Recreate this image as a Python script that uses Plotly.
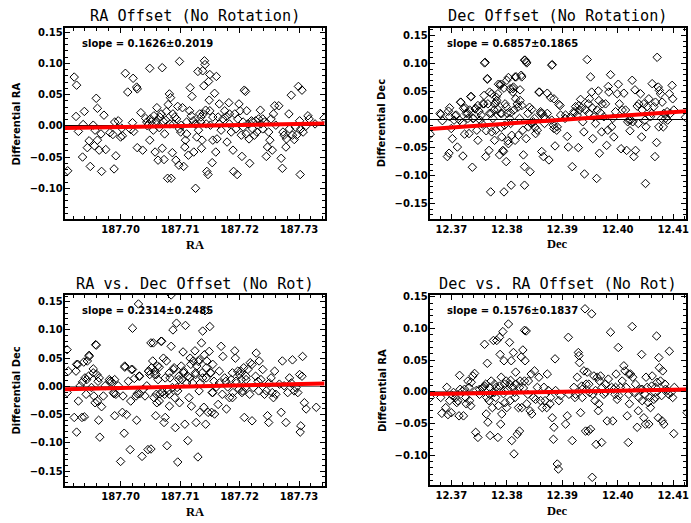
import plotly.graph_objects as go

# ---------------- data ----------------
ra1 = [187.6911,187.6922,187.6926,187.6925,187.6929,187.6937,187.6939,187.6936,187.6944,187.6947,187.6949,187.6954,187.6957,187.6959,187.6961,187.6956,187.6961,187.6964,187.6968,187.6972,187.6975,187.6967,187.6982,187.6987,187.6989,187.6992,187.6990,187.6996,187.7002,187.7000,187.7003,187.7008,187.7012,187.7021,187.7027,187.7028,187.7017,187.7020,187.7022,187.7028,187.7034,187.7037,187.7042,187.7045,187.7049,187.7049,187.7052,187.7055,187.7056,187.7058,187.7059,187.7061,187.7063,187.7065,187.7068,187.7070,187.7070,187.7072,187.7073,187.7074,187.7077,187.7080,187.7079,187.7082,187.7084,187.7085,187.7087,187.7088,187.7089,187.7093,187.7094,187.7096,187.7098,187.7099,187.7099,187.7101,187.7104,187.7106,187.7108,187.7109,187.7111,187.7114,187.7116,187.7117,187.7120,187.7122,187.7123,187.7126,187.7127,187.7128,187.7130,187.7131,187.7133,187.7135,187.7136,187.7137,187.7138,187.7140,187.7141,187.7142,187.7144,187.7145,187.7147,187.7148,187.7150,187.7149,187.7150,187.7151,187.7154,187.7155,187.7158,187.7160,187.7161,187.7162,187.7164,187.7166,187.7169,187.7172,187.7175,187.7178,187.7179,187.7182,187.7183,187.7186,187.7189,187.7190,187.7192,187.7194,187.7196,187.7197,187.7199,187.7201,187.7203,187.7204,187.7206,187.7208,187.7210,187.7211,187.7212,187.7214,187.7216,187.7217,187.7220,187.7222,187.7225,187.7227,187.7229,187.7232,187.7235,187.7236,187.7239,187.7242,187.7245,187.7247,187.7249,187.7251,187.7253,187.7255,187.7257,187.7259,187.7261,187.7266,187.7270,187.7272,187.7273,187.7275,187.7278,187.7279,187.7283,187.7284,187.7287,187.7289,187.7292,187.7294,187.7296,187.7299,187.7301,187.7302,187.7303,187.7305,187.7307,187.7311,187.7315,187.7317,187.7327,187.7342,
       187.7044,187.7050,187.7060,187.7066,187.7076,187.7083,187.7091,187.7102,187.7111,187.7119,187.7125,187.7135,187.7139,187.7143,187.7155,187.7166,187.7183,187.7206,187.7222,187.7239]
dra1 = [-0.072,0.078,0.065,0.015,-0.009,0.002,0.023,-0.050,-0.035,-0.024,-0.065,0.001,-0.007,0.044,0.028,-0.032,-0.023,-0.039,-0.073,0.017,-0.038,-0.013,-0.011,-0.014,-0.069,-0.048,0.006,0.008,-0.004,-0.018,-0.016,0.084,0.054,0.076,0.062,0.059,-0.006,0.005,-0.009,-0.035,0.021,-0.039,0.012,0.000,0.092,-0.023,0.007,-0.007,0.016,-0.042,0.004,0.029,-0.055,-0.003,0.019,0.093,-0.036,0.007,-0.054,-0.013,0.023,0.034,-0.084,0.051,0.045,-0.084,-0.043,0.019,0.003,-0.055,0.011,0.031,-0.063,0.103,-0.005,-0.010,0.029,-0.065,-0.034,-0.023,-0.013,-0.047,0.024,0.061,0.047,0.008,-0.042,-0.100,0.003,-0.018,0.087,-0.007,0.019,0.014,-0.036,-0.023,0.088,0.064,0.104,0.098,0.003,-0.073,-0.078,0.071,0.082,0.041,0.024,0.001,-0.059,-0.023,0.052,-0.042,0.079,-0.021,0.014,0.035,-0.007,0.011,0.024,0.015,-0.026,0.037,0.003,-0.010,-0.039,-0.073,0.019,-0.005,-0.078,0.011,0.035,0.024,-0.015,-0.049,0.006,0.057,0.055,-0.013,0.024,0.003,-0.021,-0.060,0.008,-0.005,-0.015,0.008,-0.010,0.011,0.025,0.003,-0.005,0.006,-0.049,-0.034,-0.010,-0.023,0.011,-0.039,0.019,0.032,0.001,0.032,-0.052,-0.068,-0.010,-0.015,-0.034,-0.021,0.019,-0.005,0.049,-0.015,-0.022,-0.002,-0.015,0.063,0.008,-0.078,-0.005,0.057,-0.010,-0.001,0.016,0.011,0.003,0.012,
        0.006,0.011,0.008,0.014,0.009,0.003,0.014,0.001,0.006,0.016,0.003,0.006,0.019,0.025,0.014,0.003,0.019,-0.002,0.006,0.011]

dec2 = [12.3662,12.3680,12.3684,12.3693,12.3696,12.3697,12.3700,12.3702,12.3705,12.3709,12.3711,12.3715,12.3717,12.3720,12.3721,12.3722,12.3724,12.3727,12.3730,12.3732,12.3733,12.3736,12.3738,12.3740,12.3744,12.3746,12.3748,12.3750,12.3752,12.3756,12.3757,12.3759,12.3760,12.3762,12.3763,12.3765,12.3766,12.3768,12.3769,12.3771,12.3772,12.3773,12.3775,12.3777,12.3778,12.3780,12.3781,12.3782,12.3784,12.3785,12.3787,12.3788,12.3789,12.3790,12.3791,12.3793,12.3794,12.3795,12.3796,12.3797,12.3799,12.3800,12.3801,12.3802,12.3803,12.3805,12.3806,12.3807,12.3808,12.3809,12.3811,12.3812,12.3813,12.3815,12.3816,12.3817,12.3819,12.3821,12.3823,12.3824,12.3826,12.3827,12.3829,12.3830,12.3832,12.3832,12.3833,12.3835,12.3836,12.3838,12.3839,12.3842,12.3844,12.3845,12.3848,12.3851,12.3852,12.3855,12.3858,12.3861,12.3863,12.3864,12.3866,12.3867,12.3870,12.3873,12.3876,12.3879,12.3881,12.3882,12.3884,12.3885,12.3887,12.3890,12.3891,12.3894,12.3897,12.3905,12.3909,12.3911,12.3915,12.3918,12.3921,12.3924,12.3927,12.3929,12.3930,12.3931,12.3933,12.3935,12.3937,12.3939,12.3940,12.3942,12.3945,12.3947,12.3948,12.3949,12.3951,12.3953,12.3954,12.3955,12.3957,12.3960,12.3962,12.3963,12.3965,12.3966,12.3967,12.3969,12.3971,12.3972,12.3975,12.3978,12.3980,12.3982,12.3983,12.3984,12.3987,12.3989,12.3991,12.3993,12.3996,12.3999,12.4001,12.4003,12.4006,12.4008,12.4011,12.4014,12.4016,12.4018,12.4020,12.4022,12.4023,12.4026,12.4027,12.4029,12.4031,12.4032,12.4035,12.4037,12.4038,12.4041,12.4043,12.4044,12.4047,12.4049,12.4050,12.4051,12.4053,12.4056,12.4059,12.4061,12.4062,12.4065,12.4067,12.4068,12.4070,12.4071,12.4073,12.4074,12.4075,12.4077,12.4079,12.4080,12.4082,12.4083,12.4086,12.4089,12.4090,12.4093,12.4095,12.4098,12.4099,12.4101,12.4122,
        12.3681,12.3695,12.3697,12.3707,12.3717,12.3725,12.3730,12.3735,12.3739,12.3743,12.3748,12.3754,12.3759,12.3761,12.3765,12.3769,12.3773,12.3778,12.3781,12.3784,12.3789,12.3791,12.3795,12.3799,12.3803,12.3807,12.3811,12.3815,12.3820,12.3824,12.3827,12.3832,12.3835,12.3841,12.3845,12.3850,12.3859,12.3861,12.3868,12.3873,12.3881,12.3885,12.3896,12.3906,12.3921]
ddec2 = [-0.026,0.011,-0.002,-0.066,-0.060,0.021,-0.016,-0.034,-0.001,0.008,-0.049,-0.001,0.031,-0.006,-0.065,0.020,-0.026,0.011,0.002,-0.025,0.017,0.041,-0.085,0.002,0.020,-0.019,-0.037,0.015,-0.001,-0.008,0.028,0.043,0.101,-0.066,-0.020,0.073,0.028,-0.055,0.049,-0.129,0.011,-0.022,0.002,0.017,-0.037,-0.019,0.030,0.034,0.046,0.063,-0.063,0.061,0.011,-0.014,-0.031,-0.055,-0.057,-0.129,-0.010,0.028,-0.075,0.070,0.011,-0.038,-0.043,0.002,0.055,-0.007,-0.117,-0.028,0.049,0.058,0.017,-0.037,0.037,0.076,0.028,-0.028,0.002,0.053,0.079,0.025,-0.019,-0.063,-0.117,-0.084,0.106,-0.034,0.101,0.011,-0.013,-0.093,-0.007,0.018,-0.004,-0.014,-0.025,-0.019,0.049,0.014,-0.057,0.011,-0.066,0.005,0.002,0.047,-0.072,0.039,-0.001,0.098,-0.010,-0.016,-0.047,-0.019,-0.013,0.027,0.008,0.002,-0.030,-0.049,0.005,-0.084,0.014,0.023,0.008,-0.050,0.025,0.017,0.036,0.021,-0.004,-0.022,-0.097,0.017,0.107,0.028,0.011,0.037,0.076,0.049,0.021,-0.034,0.005,-0.007,-0.105,0.017,0.051,0.034,-0.060,0.012,-0.022,0.028,0.005,0.028,-0.046,-0.019,0.059,0.049,0.080,-0.013,0.002,-0.031,0.014,0.046,0.063,0.028,-0.052,0.017,0.047,0.017,-0.055,-0.004,-0.001,-0.020,-0.001,0.070,-0.004,-0.066,0.053,-0.055,0.024,-0.007,0.028,0.046,-0.031,0.017,0.028,-0.001,-0.114,-0.013,0.023,0.037,0.005,0.011,0.064,0.023,-0.066,0.031,-0.041,0.111,0.058,-0.013,0.052,0.046,0.002,0.031,-0.013,0.011,0.002,0.014,-0.001,0.046,0.011,0.061,0.037,0.017,0.004,
         0.009,0.015,0.005,0.007,0.031,0.021,0.011,0.041,0.002,0.019,0.025,0.008,0.028,0.102,0.072,0.011,0.046,0.028,0.040,0.018,0.063,0.011,0.056,0.023,0.075,0.012,0.055,0.076,0.022,0.034,0.076,0.106,0.103,0.022,-0.007,0.002,0.049,0.011,-0.007,0.011,0.097,0.037,0.025,0.008,0.011]

ra3 = [187.6910,187.6910,187.6922,187.6925,187.6926,187.6928,187.6929,187.6932,187.6935,187.6936,187.6939,187.6940,187.6942,187.6944,187.6946,187.6947,187.6951,187.6954,187.6955,187.6957,187.6959,187.6960,187.6961,187.6963,187.6964,187.6965,187.6968,187.6971,187.6974,187.6981,187.6985,187.6988,187.6989,187.6990,187.6992,187.6996,187.7000,187.7003,187.7004,187.7006,187.7007,187.7010,187.7013,187.7016,187.7017,187.7018,187.7020,187.7023,187.7026,187.7027,187.7028,187.7031,187.7032,187.7030,187.7036,187.7038,187.7041,187.7044,187.7046,187.7047,187.7049,187.7051,187.7052,187.7054,187.7055,187.7056,187.7058,187.7059,187.7060,187.7061,187.7063,187.7065,187.7066,187.7069,187.7070,187.7072,187.7073,187.7074,187.7075,187.7077,187.7078,187.7080,187.7082,187.7083,187.7085,187.7087,187.7088,187.7089,187.7091,187.7092,187.7094,187.7095,187.7096,187.7098,187.7099,187.7102,187.7103,187.7105,187.7106,187.7108,187.7109,187.7111,187.7113,187.7115,187.7116,187.7117,187.7119,187.7121,187.7122,187.7125,187.7126,187.7127,187.7128,187.7130,187.7132,187.7133,187.7134,187.7136,187.7137,187.7138,187.7140,187.7141,187.7142,187.7143,187.7144,187.7145,187.7147,187.7149,187.7150,187.7151,187.7153,187.7154,187.7155,187.7158,187.7161,187.7164,187.7166,187.7169,187.7171,187.7172,187.7175,187.7178,187.7180,187.7183,187.7186,187.7189,187.7192,187.7193,187.7194,187.7197,187.7199,187.7200,187.7203,187.7204,187.7207,187.7208,187.7210,187.7211,187.7214,187.7217,187.7218,187.7221,187.7223,187.7227,187.7228,187.7231,187.7232,187.7233,187.7236,187.7239,187.7242,187.7245,187.7247,187.7249,187.7250,187.7253,187.7255,187.7257,187.7259,187.7261,187.7267,187.7270,187.7272,187.7275,187.7278,187.7281,187.7284,187.7287,187.7289,187.7292,187.7295,187.7298,187.7301,187.7302,187.7303,187.7305,187.7306,187.7309,187.7312,187.7329,187.7085,
       187.6912,187.6926,187.6938,187.6947,187.6943,187.6954,187.6958,187.6962,187.6982,187.6990,187.7007,187.7020,187.7032,187.7047,187.7051,187.7057,187.7062,187.7068,187.7075,187.7082,187.7090,187.7098,187.7106,187.7113,187.7118,187.7126,187.7131,187.7138,187.7144,187.7152,187.7157,187.7166,187.7177,187.7188,187.7202,187.7211,187.7221,
       187.7060,187.7082,187.7065,187.7096,187.7132,187.7155,187.7188,187.7205]
ddec3 = [0.065,-0.011,-0.055,0.027,-0.081,0.039,-0.026,0.001,-0.055,0.008,-0.054,0.015,-0.014,0.045,0.018,0.053,-0.002,0.031,-0.017,-0.029,0.073,0.021,-0.026,-0.060,0.015,-0.090,-0.036,-0.017,0.001,0.012,0.008,-0.011,-0.013,-0.052,-0.014,0.001,-0.133,-0.046,-0.017,-0.083,0.034,-0.050,0.009,-0.112,-0.026,0.030,0.103,0.014,-0.017,-0.060,-0.013,0.018,-0.013,0.146,-0.124,-0.005,-0.017,0.001,-0.112,0.027,0.021,-0.111,0.033,0.045,0.077,-0.020,0.027,-0.052,0.021,-0.029,0.012,0.034,-0.013,0.080,-0.011,0.050,-0.064,-0.014,-0.055,0.045,-0.105,-0.008,-0.035,0.015,0.071,-0.002,0.100,0.030,-0.020,-0.073,0.112,-0.002,-0.134,0.018,-0.029,0.036,0.012,0.061,0.024,-0.067,0.108,0.006,-0.096,-0.020,0.015,0.050,-0.035,0.006,0.045,0.063,0.021,-0.064,0.036,-0.125,0.047,-0.046,0.006,0.077,0.024,0.098,-0.037,0.056,0.134,-0.067,0.015,0.045,-0.046,0.062,0.106,0.024,-0.046,-0.011,0.039,-0.049,-0.001,-0.032,0.006,0.071,-0.014,0.053,0.015,-0.040,-0.001,-0.020,0.012,-0.011,0.063,0.050,0.009,0.027,-0.005,0.021,0.012,-0.011,0.033,-0.055,-0.002,0.018,0.030,-0.014,0.042,-0.061,-0.002,0.018,0.059,0.009,-0.008,0.045,0.012,0.030,-0.014,-0.008,-0.052,-0.064,0.006,0.015,-0.011,-0.020,0.027,-0.014,0.004,-0.046,0.045,0.001,-0.064,-0.011,0.015,0.006,0.047,-0.008,-0.002,-0.011,0.021,-0.081,-0.070,0.018,0.053,-0.029,-0.040,-0.037,0.162,
         0.027,0.039,0.043,0.055,0.012,0.024,0.074,0.009,0.009,0.012,0.036,0.030,0.018,0.027,0.077,0.021,0.036,0.080,0.015,0.024,0.033,0.012,0.027,0.018,0.039,0.024,0.044,0.015,0.033,0.024,0.009,0.027,0.009,0.024,0.027,0.012,0.039,
         -0.014,-0.014,-0.026,-0.008,-0.008,-0.011,-0.020,-0.008]

dec4 = [12.3662,12.3681,12.3683,12.3690,12.3692,12.3694,12.3697,12.3700,12.3702,12.3704,12.3708,12.3710,12.3712,12.3714,12.3715,12.3716,12.3720,12.3722,12.3724,12.3726,12.3727,12.3730,12.3732,12.3733,12.3735,12.3736,12.3739,12.3742,12.3744,12.3745,12.3748,12.3751,12.3756,12.3758,12.3760,12.3762,12.3763,12.3764,12.3765,12.3766,12.3768,12.3769,12.3770,12.3772,12.3774,12.3775,12.3776,12.3778,12.3780,12.3781,12.3782,12.3784,12.3785,12.3787,12.3788,12.3789,12.3790,12.3791,12.3793,12.3794,12.3795,12.3796,12.3797,12.3799,12.3800,12.3802,12.3803,12.3805,12.3806,12.3807,12.3808,12.3809,12.3811,12.3812,12.3813,12.3815,12.3816,12.3817,12.3819,12.3821,12.3823,12.3824,12.3826,12.3827,12.3829,12.3830,12.3832,12.3833,12.3835,12.3836,12.3838,12.3839,12.3842,12.3844,12.3845,12.3848,12.3850,12.3852,12.3855,12.3858,12.3861,12.3864,12.3867,12.3869,12.3872,12.3873,12.3875,12.3878,12.3879,12.3882,12.3884,12.3885,12.3887,12.3888,12.3891,12.3893,12.3894,12.3897,12.3906,12.3909,12.3911,12.3912,12.3918,12.3921,12.3923,12.3924,12.3927,12.3929,12.3930,12.3931,12.3933,12.3935,12.3936,12.3939,12.3941,12.3942,12.3943,12.3945,12.3947,12.3949,12.3951,12.3953,12.3954,12.3955,12.3957,12.3959,12.3961,12.3963,12.3965,12.3966,12.3967,12.3969,12.3971,12.3972,12.3975,12.3978,12.3981,12.3983,12.3987,12.3989,12.3991,12.3993,12.3995,12.3997,12.3999,12.4001,12.4002,12.4005,12.4008,12.4011,12.4013,12.4015,12.4017,12.4019,12.4020,12.4021,12.4023,12.4026,12.4027,12.4029,12.4032,12.4035,12.4037,12.4038,12.4041,12.4043,12.4044,12.4047,12.4049,12.4050,12.4051,12.4053,12.4055,12.4056,12.4057,12.4059,12.4061,12.4062,12.4065,12.4067,12.4068,12.4070,12.4071,12.4073,12.4074,12.4075,12.4077,12.4079,12.4080,12.4081,12.4083,12.4085,12.4086,12.4089,12.4092,12.4093,12.4096,12.4099,12.4101,12.4102,12.4125,
        12.3751,12.3760,12.3769,12.3778,12.3787,12.3796,12.3805,12.3814,12.3823,12.3832,12.3936,12.3948,12.3960,12.3978,12.3996,12.4020,12.4044,12.4068]
dra4 = [-0.009,-0.009,-0.034,-0.025,0.007,-0.036,-0.014,-0.033,-0.006,-0.001,-0.009,-0.017,-0.014,-0.038,0.026,0.004,0.001,-0.038,0.004,-0.009,-0.019,0.017,0.007,-0.014,-0.022,0.015,0.025,0.029,-0.064,0.002,-0.072,-0.004,0.006,0.007,0.075,0.012,-0.035,-0.009,0.045,-0.048,-0.014,0.007,-0.069,0.017,-0.025,-0.001,0.081,0.012,-0.009,0.007,0.081,-0.072,-0.022,0.086,0.059,-0.051,0.023,-0.035,0.095,-0.003,0.049,0.012,-0.017,0.017,-0.025,0.004,0.107,0.078,-0.014,0.018,0.049,-0.077,0.007,0.062,-0.098,-0.009,0.031,0.012,-0.067,-0.025,-0.062,0.017,0.055,-0.025,0.066,0.006,0.097,0.049,0.096,-0.019,-0.004,0.017,-0.030,0.028,-0.035,-0.009,0.033,-0.012,0.007,0.023,-0.014,-0.025,0.007,-0.014,-0.025,0.028,0.002,-0.019,-0.009,-0.041,-0.075,-0.056,0.052,0.002,-0.114,-0.122,-0.014,-0.006,-0.051,-0.038,0.086,-0.004,-0.077,0.007,-0.009,-0.004,0.023,0.062,0.057,0.046,-0.033,0.009,-0.009,0.033,0.131,-0.062,0.012,0.031,-0.062,-0.001,-0.059,0.123,-0.135,-0.004,0.025,-0.014,-0.083,0.023,-0.030,-0.019,0.017,0.025,-0.080,0.007,-0.004,0.012,-0.046,0.020,0.094,0.007,-0.046,0.004,-0.004,0.028,-0.012,0.070,-0.006,0.007,0.017,0.041,0.033,0.007,-0.038,-0.080,0.028,-0.019,0.028,0.103,0.023,-0.001,0.012,-0.056,-0.030,-0.009,0.004,0.059,-0.014,-0.041,-0.004,-0.051,0.023,0.007,-0.017,-0.051,-0.009,-0.025,0.009,0.025,-0.012,-0.001,-0.009,0.088,0.015,-0.041,0.054,0.038,0.017,-0.006,-0.046,0.033,-0.051,0.012,0.004,0.002,-0.004,0.064,-0.001,-0.009,-0.066,0.007,-0.033,
        0.004,0.009,-0.004,-0.001,0.009,0.002,0.012,-0.001,0.007,0.017,0.004,0.012,0.002,-0.001,0.007,-0.004,0.004,0.007]

titles = ["RA Offset (No Rotation)", "Dec Offset (No Rotation)",
          "RA vs. Dec Offset (No Rot)", "Dec vs. RA Offset (No Rot)"]
x_titles = ["RA", "Dec", "RA", "Dec"]
y_titles = ["Differential RA", "Differential Dec", "Differential Dec", "Differential RA"]
slope_text = ["slope = 0.1626\u00b10.2019", "slope = 0.6857\u00b10.1865",
              "slope = 0.2314\u00b10.2485", "slope = 0.1576\u00b10.1837"]
fit_slope = [0.1626, 0.6857, 0.2314, 0.1576]
fit_y_center = [0.0, -0.001, 0.0, 0.0]

# ---------------- layout geometry ----------------
W, H = 691, 523
xr_ra = [187.6906, 187.7343]
xr_dec = [12.3661, 12.4123]
x_ranges = [xr_ra, xr_dec, xr_ra, xr_dec]
y_ranges = [[-0.1497, 0.1568], [-0.1774, 0.1636], [-0.177, 0.1618], [-0.1476, 0.1527]]
# plot boxes in pixels (left, right, top, bottom)
boxes = [(65, 326, 24, 217), (431.5, 689, 24, 216.7),
         (65, 326, 293.3, 486), (431.5, 689, 293.3, 485)]
xs = [ra1, dec2, ra3, dec4]
ys = [dra1, ddec2, ddec3, dra4]
zero_colors = ["black", "black", "#777777", "#777777"]

fig = go.Figure()
tickfont = dict(family="DejaVu Sans", size=10, color="black", weight="bold")
annotations = []
for i in range(4):
    n = "" if i == 0 else str(i + 1)
    xa, ya = "x" + n, "y" + n
    l, r, t, b = boxes[i]
    fig.add_trace(go.Scatter(
        x=xs[i], y=ys[i], mode="markers", xaxis=xa, yaxis=ya, showlegend=False,
        marker=dict(symbol="diamond-open", size=6.5, color="black", line=dict(width=1, color="black"))))
    x0, x1 = x_ranges[i]
    xc = (x0 + x1) / 2
    fx = [x0, x1]
    fy = [fit_y_center[i] + fit_slope[i] * (v - xc) for v in fx]
    fig.add_trace(go.Scatter(x=fx, y=fy, mode="lines", xaxis=xa, yaxis=ya, showlegend=False,
                             line=dict(color="#ff0000", width=4)))
    common = dict(showline=True, linecolor="black", linewidth=2, mirror="allticks",
                  ticks="inside", ticklen=5, tickwidth=1, tickcolor="black",
                  showgrid=False, tickfont=tickfont, tickformat=".2f")
    fig.layout["xaxis" + n] = dict(
        domain=[l / W, r / W], range=x_ranges[i], anchor=ya, dtick=0.01, tick0=0,
        minor=dict(ticks="inside", ticklen=3, dtick=0.002, tickcolor="black", tickwidth=1),
        zeroline=False, ticklabelstandoff=0, ticklabeloverflow="allow", **common)
    fig.layout["yaxis" + n] = dict(
        domain=[1 - b / H, 1 - t / H], range=y_ranges[i], anchor=xa, dtick=0.05, tick0=0,
        minor=dict(ticks="inside", ticklen=3, dtick=0.01, tickcolor="black", tickwidth=1),
        zeroline=True, zerolinecolor=zero_colors[i], zerolinewidth=1, ticklabelstandoff=-2, **common)
    cx = (l + r) / 2
    annotations.append(dict(text=titles[i], x=cx / W, y=1 - (t - 11.5) / H, xref="paper", yref="paper",
                            xanchor="center", yanchor="middle", showarrow=False,
                            font=dict(family="DejaVu Sans Mono", size=15.2, color="black")))
    annotations.append(dict(text=slope_text[i], x=(l + 15.5) / W, y=1 - (t + 15.5) / H,
                            xref="paper", yref="paper", xanchor="left", yanchor="middle",
                            showarrow=False, font=dict(family="DejaVu Sans", size=10, color="black", weight="bold")))
    annotations.append(dict(text=x_titles[i], x=cx / W, y=1 - (b + 25.5) / H, xref="paper", yref="paper",
                            xanchor="center", yanchor="middle", showarrow=False,
                            font=dict(family="Liberation Serif", size=12.5, color="black", weight="bold")))
    annotations.append(dict(text=y_titles[i], x=(l - 48) / W, y=1 - ((t + b) / 2) / H, xref="paper", yref="paper",
                            xanchor="center", yanchor="middle", textangle=-90, showarrow=False,
                            font=dict(family="DejaVu Sans", size=10, color="black", weight="bold")))

fig.update_layout(width=W, height=H, margin=dict(l=0, r=0, t=0, b=0),
                  paper_bgcolor="white", plot_bgcolor="white", annotations=annotations,
                  hovermode=False)
fig.write_html("out.html", config={"displayModeBar": False},
               post_script="document.body.style.margin='0';document.body.style.overflow='hidden';")
